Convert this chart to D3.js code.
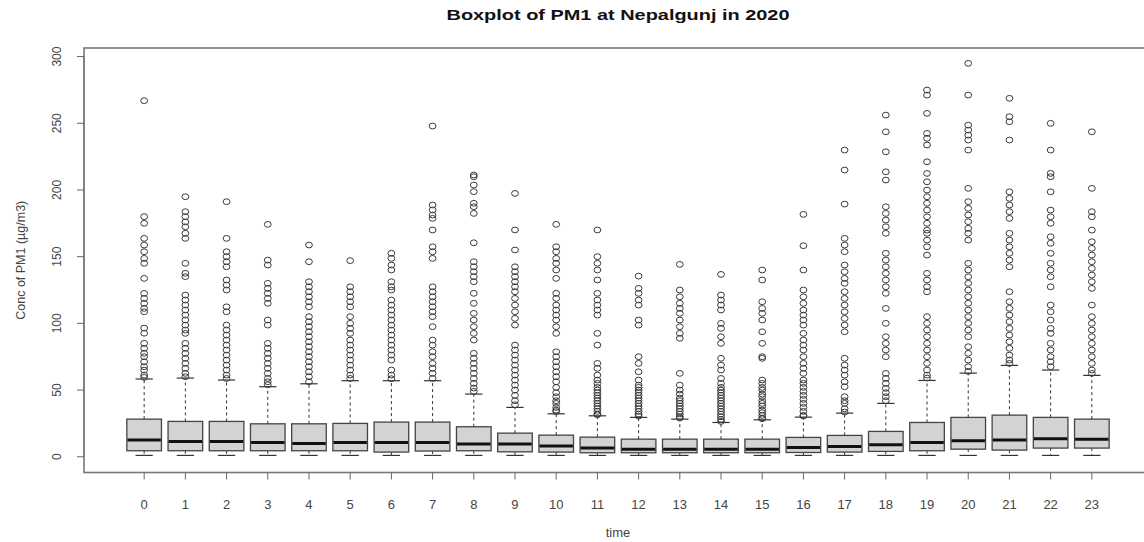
<!DOCTYPE html>
<html><head><meta charset="utf-8">
<script src="https://cdn.jsdelivr.net/npm/d3@7"></script>
<style>
body{margin:0;background:#fff}
svg{display:block}
text{font-family:"Liberation Sans",Arial,Helvetica,sans-serif}
</style>
</head><body>
<svg id="chart" width="1144" height="542"></svg>
<script>
// ---- data ----
const hours = ["0","1","2","3","4","5","6","7","8","9","10","11","12","13","14","15","16","17","18","19","20","21","22","23"];
const whiskerLow = [1,1,1,1,1,1,1,1,1,1,1,1,1,1,1,1,1,1,1,1,1,1,1,1];
const q1     = [4.5,4.5,4.5,4.5,4.5,4.5,3.5,4.3,4.5,3.7,3.5,3,3,3,3,3,3.2,3.5,4,4.5,5.7,5,6.5,6.5];
const median = [12.5,11.5,11.5,10.7,10,10.7,10.7,10.7,9.5,9.5,8,6.5,5.7,5.7,5.7,5.7,7,7.7,9,10.7,12,12.5,13.5,13.2];
const q3     = [28.2,26.5,26.5,24.7,24.7,25,26,26,22.5,17.7,16.2,14.7,13.2,13.2,13.2,13.2,14.5,16,19,25.7,29.5,31.2,29.5,28.2];
const whiskerHigh = [58.3,59,57.5,52.5,54.7,57,57,57,47,37,32.2,30.7,29.5,28.2,25.7,27.7,29.7,32.7,40,57.2,62.7,68.5,65,61];
const outliers = [
 [266.9,180,175,163.7,158.7,153.7,148.7,145,133.7,122.5,118.7,115,111.2,108.7,96.5,92.6,85,81.3,77.5,75,71.2,67.5,65,61.2,59.5],
 [194.9,183.7,180,176,172.4,167.5,163.7,145,137.5,135,121.2,117.5,113.7,110,106.2,102.5,98.7,95,92.5,85,81.3,77.5,73.8,70,66.3,62.5,60],
 [191.2,163.7,153.7,150,146.2,142.4,132.5,128.7,125,112.4,108.7,98.7,95,91.2,87.5,83.7,80,76.2,72.5,68.7,65,61.2,58.7],
 [174.2,147.4,143.7,130,126.2,122.5,118.7,115,102.5,98.7,85,81.3,77.5,73.8,70,66.3,62.5,58.7,56.2,54],
 [158.7,146.2,131.2,127.4,123.7,119.9,116.2,112.4,105,101.2,97.5,93.7,90,86.2,82.5,78.7,75,71.2,67.5,63.7,60,56.2],
 [147,127.4,123.7,119.9,116.2,112.4,105,100,96.2,92.5,87.5,83.7,80,76.2,72.5,68.7,65,61.2,58.7],
 [152.5,148.7,143.7,140,131.2,127.4,125,117.5,113.7,110,106.2,102.5,98.7,95,91.2,87.5,83.7,80,76.2,72.5,65,61.2,58.5],
 [247.9,188.7,185,181.2,178.7,170,157.4,153.7,148.7,127.4,123.7,119.9,116.2,112.4,108.7,105,97.5,87.5,83.7,78.7,75,70,66.3,62.5,58.7],
 [211.2,209.9,203.7,198.7,190,187.4,182.4,160.4,146.2,142.4,138.7,135,131.2,122.5,115,107.5,102.5,97.5,92.5,87.5,77.5,73.8,70,66.3,62.5,58.7,55,51.5,49],
 [197.4,170,155,142.4,138.7,135,131.2,127.4,123.7,118.7,113.7,108.7,103.7,98.7,83.7,80,76.2,72.5,68.7,65,61.2,57.5,53.7,50,46,42,39],
 [174.2,157.4,153.7,148.7,145,140,133.7,122.5,118.7,113.7,110,106.2,102.5,97.5,92.5,78.7,75,71.2,67.5,63.7,60,56.2,52,48,45,42,40,37,35,33.8],
 [170,150,145,140,132.5,122.5,117.5,113.7,110,106.2,92.5,83.7,70,66.3,61.2,57.5,55,52,50,48,46,44,42,40,38,36,34,32,31.5],
 [135.4,126.2,122.5,117.5,113.7,102.5,98.7,75,70,63.7,57.5,53.7,52,50,48,46,44,42,40,38,36,34,32,30.5],
 [144.2,125,119.9,115,111.2,107.5,102.5,97.5,92.5,88.8,62.5,53.7,50,47,44,42,40,38,36,34,32,30,29],
 [136.7,121.2,117.5,113.7,110,100,96.2,90,85,73.8,68.7,65,58.7,55,52,50,48,46,44,42,40,38,36,34,32,30,28,26.5],
 [140,132.5,116.2,111.2,107.5,102.5,93.7,85,75,73.8,57.5,55,52,50,47,45,42,40,38,35,33,31,29,28.5],
 [181.7,158.2,140,125,119.9,115,110,106.2,102.5,98.7,92.5,87.5,83.7,80,75,70,66.3,62.5,57.5,55,52,49,46,43,40,37,34,31,30.5],
 [229.9,214.9,189.4,163.7,158.7,153.7,143.7,138.7,133.7,130,123.7,118.7,113.7,108.7,103.7,98.7,93.7,73.8,68.7,65,61.2,56.2,52.5,45,42,40,36,33.5],
 [256.1,243.6,228.6,213.6,207.4,187.4,182.4,177.4,172.4,167.5,152.5,147.4,142.4,137.5,132.5,127.4,122.5,111.2,100,90,85,80,75,62.5,58.7,55,51.3,48,45,42],
 [274.9,271.1,257.4,242.4,238.7,233.7,221.1,212.4,206.1,199.9,194.9,190,184.9,179.9,175,169.9,167.5,162.4,157.4,151.2,137.5,132.5,127.4,123.7,105,100,95,90,85,80,75,70,65,61.2,59],
 [294.9,271.1,248.6,244.9,241.1,237.4,229.9,201.2,191.2,186.2,181.2,176.2,171.2,167.5,162.4,145,140,134.9,130,125,119.9,115,110,105,100,95,90,82.5,77.5,72.5,67.5,64],
 [268.7,254.9,251.1,237.4,198.6,193.7,188.7,183.7,178.7,167.5,162.4,157.4,152.5,147.4,142.4,123.7,116.2,111.2,106.2,101.2,96.2,91.2,86.2,81.3,76.2,72.5,70],
 [249.9,229.9,212.4,209.9,198.6,184.9,179.9,175,164.9,160,152.5,145,140,134.9,127.4,113.7,108.7,102.5,96.2,92.5,85,80,75,71.2,67.5],
 [243.6,201.2,183.7,179.9,169.9,161.2,156.2,151.2,146.2,141.2,136.2,131.2,126.2,113.7,105,100,95,90,85,80,75,70,65,62.5]
];
const yTicks = [0,50,100,150,200,250,300];
const titleText = "Boxplot of PM1 at Nepalgunj in 2020";
const xLabel = "time";
const yLabel = "Conc of PM1 (µg/m3)";

// ---- layout ----
const svg = d3.select("#chart");
const L = 84, R = 1152, T = 48, B = 472.5;
const x = d3.scaleLinear().domain([-0.46, 25.46]).range([L, R]);
const y = d3.scaleLinear().domain([-11.8, 306.4]).range([B, T]);
const step = x(2) - x(1);
const boxW = step * 0.84;
const capW = boxW * 0.5;
const ink = "#333";

const data = hours.map((h, i) => ({
  h, pos: i + 1, lo: whiskerLow[i], q1: q1[i], med: median[i], q3: q3[i], hi: whiskerHigh[i], out: outliers[i]
}));

// frame
svg.append("rect").attr("x", L).attr("y", T).attr("width", R - L).attr("height", B - T)
  .attr("fill", "none").attr("stroke", "#777").attr("stroke-width", 1.6);

const g = svg.append("g");
const box = g.selectAll("g.box").data(data).join("g").attr("class", "box");

// whiskers (dashed)
box.append("line").attr("x1", d => x(d.pos)).attr("x2", d => x(d.pos))
  .attr("y1", d => y(d.q3)).attr("y2", d => y(d.hi))
  .attr("stroke", ink).attr("stroke-width", 1).attr("stroke-dasharray", "3,3");
box.append("line").attr("x1", d => x(d.pos)).attr("x2", d => x(d.pos))
  .attr("y1", d => y(d.q1)).attr("y2", d => y(d.lo))
  .attr("stroke", ink).attr("stroke-width", 1).attr("stroke-dasharray", "3,3");
// caps
box.append("line").attr("x1", d => x(d.pos) - capW / 2).attr("x2", d => x(d.pos) + capW / 2)
  .attr("y1", d => y(d.hi)).attr("y2", d => y(d.hi)).attr("stroke", ink).attr("stroke-width", 1.2);
box.append("line").attr("x1", d => x(d.pos) - capW / 2).attr("x2", d => x(d.pos) + capW / 2)
  .attr("y1", d => y(d.lo)).attr("y2", d => y(d.lo)).attr("stroke", ink).attr("stroke-width", 1.2);
// box
box.append("rect").attr("x", d => x(d.pos) - boxW / 2).attr("width", boxW)
  .attr("y", d => y(d.q3)).attr("height", d => y(d.q1) - y(d.q3))
  .attr("fill", "#d3d3d3").attr("stroke", "#444").attr("stroke-width", 1.3);
// median
box.append("line").attr("x1", d => x(d.pos) - boxW / 2 + 0.6).attr("x2", d => x(d.pos) + boxW / 2 - 0.6)
  .attr("y1", d => y(d.med)).attr("y2", d => y(d.med)).attr("stroke", "#111").attr("stroke-width", 3);
// outliers
box.selectAll("ellipse").data(d => d.out.map(v => ({ pos: d.pos, v }))).join("ellipse")
  .attr("cx", d => x(d.pos)).attr("cy", d => y(d.v)).attr("rx", 3.4).attr("ry", 2.9)
  .attr("fill", "none").attr("stroke", "#3a3a3a").attr("stroke-width", 1);

// y axis
const ya = svg.append("g");
ya.append("line").attr("x1", L).attr("x2", L).attr("y1", y(0)).attr("y2", y(300)).attr("stroke", "#777").attr("stroke-width", 1.2);
ya.selectAll("line.t").data(yTicks).join("line").attr("class", "t")
  .attr("x1", L - 7).attr("x2", L).attr("y1", d => y(d)).attr("y2", d => y(d)).attr("stroke", "#666");
ya.selectAll("text").data(yTicks).join("text")
  .attr("transform", d => `translate(61,${y(d)}) rotate(-90)`)
  .attr("text-anchor", "middle").attr("font-size", 12).attr("fill", "#444").text(d => d);

// x axis
const xa = svg.append("g");
xa.selectAll("line").data(data).join("line")
  .attr("x1", d => x(d.pos)).attr("x2", d => x(d.pos)).attr("y1", B).attr("y2", B + 7).attr("stroke", "#666");
xa.selectAll("text").data(data).join("text")
  .attr("x", d => x(d.pos)).attr("y", 509).attr("text-anchor", "middle")
  .attr("font-size", 13).attr("fill", "#444").text(d => d.h);

// labels
svg.append("text").attr("x", (L + R) / 2).attr("y", 537).attr("text-anchor", "middle")
  .attr("font-size", 13).attr("fill", "#444").text(xLabel);
svg.append("text").attr("transform", `translate(25,${(T + B) / 2}) rotate(-90)`)
  .attr("text-anchor", "middle").attr("font-size", 12.5).attr("fill", "#444").text(yLabel);
svg.append("text").attr("x", (L + R) / 2).attr("y", 20).attr("text-anchor", "middle")
  .attr("font-size", 15).attr("font-weight", "bold").attr("fill", "#111")
  .attr("textLength", 343).attr("lengthAdjust", "spacingAndGlyphs").text(titleText);
</script>
</body></html>
